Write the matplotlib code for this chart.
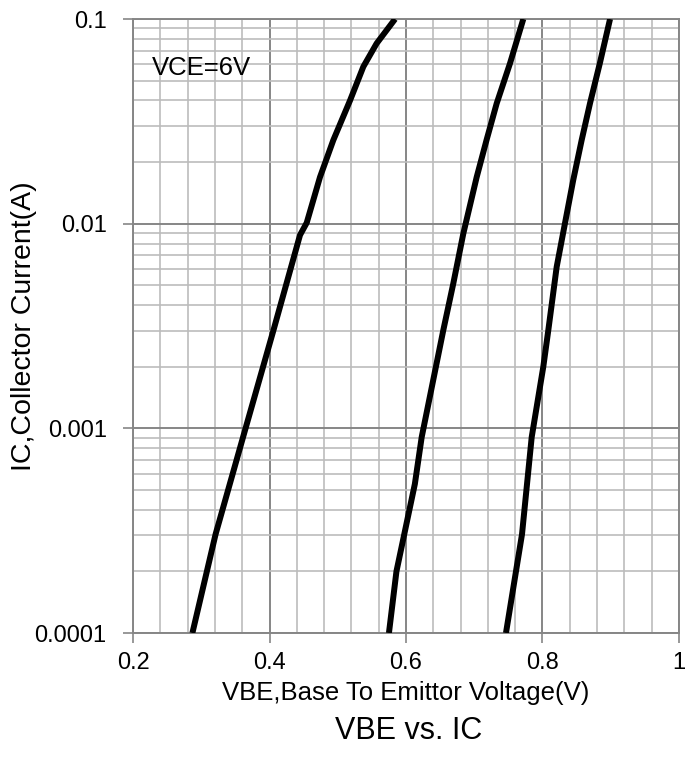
import matplotlib
matplotlib.use("Agg")
import matplotlib.pyplot as plt
from matplotlib.ticker import FixedLocator, LogLocator, NullFormatter

plt.rcParams['font.family'] = ['Liberation Sans', 'DejaVu Sans']

# curves: base-emitter voltage (V) vs collector current (A)
vbe_1 = [0.287, 0.321, 0.3626, 0.4056, 0.4447, 0.4545, 0.474, 0.4935, 0.518, 0.5375, 0.557, 0.584]
ic_1 = [1e-4, 3.04e-4, 9.4e-4, 3.0e-3, 8.8e-3, 1.01e-2, 1.69e-2, 2.56e-2, 4.0e-2, 5.85e-2, 7.6e-2, 0.1]

vbe_2 = [0.575, 0.586, 0.613, 0.623, 0.6546, 0.6693, 0.684, 0.6938, 0.7036, 0.718, 0.7329, 0.7524, 0.7719]
ic_2 = [1e-4, 2.0e-4, 5.35e-4, 9.06e-4, 3.01e-3, 5.1e-3, 8.95e-3, 1.23e-2, 1.69e-2, 2.56e-2, 3.87e-2, 6.07e-2, 0.1]

vbe_3 = [0.7465, 0.770, 0.7842, 0.8012, 0.8085, 0.8208, 0.8305, 0.845, 0.8574, 0.8696, 0.884, 0.899]
ic_3 = [1e-4, 3.04e-4, 9.06e-4, 2.0e-3, 3.01e-3, 6.15e-3, 9.1e-3, 1.63e-2, 2.56e-2, 3.87e-2, 6.07e-2, 0.1]

x_ticks = [0.2, 0.4, 0.6, 0.8, 1.0]
x_ticklabels = ['0.2', '0.4', '0.6', '0.8', '1']
y_ticks = [1e-4, 1e-3, 1e-2, 1e-1]
y_ticklabels = ['0.0001', '0.001', '0.01', '0.1']

fig = plt.figure(figsize=(6.85, 7.58), dpi=100)
ax = fig.add_axes([0.1942, 0.1649, 0.7970, 0.8100])

for v, i in [(vbe_1, ic_1), (vbe_2, ic_2), (vbe_3, ic_3)]:
    ax.plot(v, i, color='black', lw=4.3, solid_capstyle='butt', zorder=5)

ax.set_yscale('log')
ax.set_xlim(0.2, 1.0)
ax.set_ylim(1e-4, 0.1)

ax.xaxis.set_major_locator(FixedLocator(x_ticks))
ax.set_xticklabels(x_ticklabels)
ax.xaxis.set_minor_locator(FixedLocator([0.2 + 0.04 * k for k in range(21)]))
ax.yaxis.set_major_locator(FixedLocator(y_ticks))
ax.set_yticklabels(y_ticklabels)
ax.yaxis.set_minor_locator(LogLocator(base=10, subs=range(2, 10)))
ax.yaxis.set_minor_formatter(NullFormatter())

ax.grid(which='minor', color='#bcbcbc', lw=1.2)
ax.grid(which='major', color='#868686', lw=1.4)
ax.set_axisbelow(True)

ax.tick_params(which='major', direction='out', length=7, width=1.2, color='#868686',
               labelsize=17, labelcolor='black')
ax.tick_params(axis='x', which='major', pad=7)
ax.tick_params(axis='y', which='major', pad=12)
ax.tick_params(which='minor', length=0)
for s in ax.spines.values():
    s.set_color('#868686')
    s.set_linewidth(1.4)

ax.text(0.035, 0.92, 'VCE=6V', fontsize=18.5, va='center', ha='left',
        transform=ax.transAxes, zorder=6)

ax.set_xlabel('VBE,Base To Emittor Voltage(V)', fontsize=18.5)
ax.xaxis.set_label_coords(0.5, -0.098)
ax.xaxis.label.set_verticalalignment('center')
ax.set_ylabel('IC,Collector Current(A)', fontsize=20.5)
ax.yaxis.set_label_coords(-0.2, 0.5)
ax.yaxis.label.set_verticalalignment('center')
fig.text(0.597, 0.035, 'VBE vs. IC', fontsize=22, ha='center', va='center')

fig.savefig('out.png', dpi=100)
